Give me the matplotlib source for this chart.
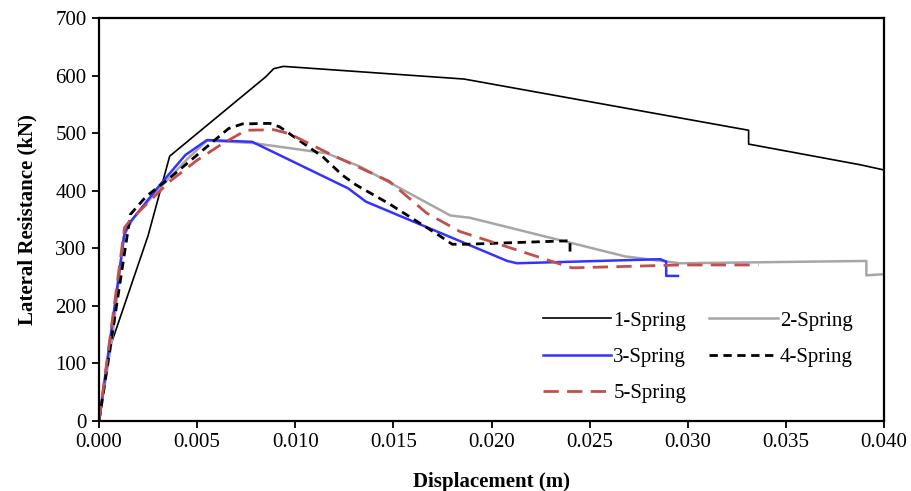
import matplotlib
matplotlib.use("Agg")
import matplotlib.pyplot as plt

plt.rcParams['font.family'] = ['Liberation Serif', 'DejaVu Serif']

# displacement (m) / lateral resistance (kN)
s1_x = [0, 0.0006, 0.0025, 0.0036, 0.0085, 0.0089, 0.0094, 0.0186, 0.0331, 0.0331, 0.0388, 0.0400]
s1_y = [0, 132, 322, 460, 598, 612, 616, 594, 505, 481, 445, 436]

s2_x = [0, 0.0007, 0.00125, 0.0017, 0.0031, 0.0045, 0.0055, 0.0078, 0.0116, 0.0133, 0.0179, 0.0189,
        0.0268, 0.0296, 0.0391, 0.0391, 0.0400]
s2_y = [0, 150, 320, 350, 405, 455, 487, 483, 465, 442, 357, 353, 286, 274, 278, 253, 255]

s3_x = [0, 0.0013, 0.0016, 0.0031, 0.0044, 0.0055, 0.0078, 0.0127, 0.0136, 0.0208, 0.0213,
        0.0286, 0.0289, 0.0289, 0.0295]
s3_y = [0, 326, 346, 410, 462, 488, 485, 404, 381, 278, 274, 281, 277, 252, 252]

s4_x = [0, 0.0016, 0.0024, 0.0036, 0.0051, 0.0066, 0.0073, 0.0087, 0.0092, 0.0114, 0.0124, 0.0131,
        0.0148, 0.0173, 0.0180, 0.0187, 0.0239, 0.0240, 0.0240]
s4_y = [0, 359, 390, 422, 465, 508, 516, 517, 511, 459, 427, 410, 377, 323, 307, 307, 313, 314, 288]

s5_x = [0, 0.0013, 0.0016, 0.0036, 0.0050, 0.0063, 0.0075, 0.0089, 0.0097, 0.0117, 0.0148, 0.0167,
        0.0184, 0.0231, 0.0241, 0.0296, 0.0336]
s5_y = [0, 336, 349, 416, 453, 482, 505, 506, 499, 465, 416, 361, 329, 277, 266, 271, 271]

labels = ['1-Spring', '2-Spring', '3-Spring', '4-Spring', '5-Spring']

fig = plt.figure(figsize=(9.11, 4.91), dpi=100)
ax = fig.add_axes([0.1087, 0.1426, 0.8617, 0.8207])

h1, = ax.plot(s1_x, s1_y, color='black', lw=1.2, label=labels[0])
h2, = ax.plot(s2_x, s2_y, color='#A6A6A6', lw=1.8, label=labels[1])
h3, = ax.plot(s3_x, s3_y, color='#3333FF', lw=1.8, label=labels[2])
h4, = ax.plot(s4_x, s4_y, color='black', lw=2.0, ls=(0, (3.0, 2.0)), label=labels[3])
h5, = ax.plot(s5_x, s5_y, color='#C0504D', lw=2.0, ls=(0, (5.5, 3.0)), label=labels[4])

ax.set_xlim(0, 0.040)
ax.set_ylim(0, 700)
ax.set_xticks([i * 0.005 for i in range(9)])
ax.set_xticklabels(['%.3f' % (i * 0.005) for i in range(9)])
ax.set_yticks(range(0, 701, 100))
ax.tick_params(labelsize=15, length=5, width=1.3, direction='out', pad=4)
for sp in ax.spines.values():
    sp.set_linewidth(1.6)

ax.set_xlabel('Displacement (m)', fontsize=15, fontweight='bold', labelpad=14)
ax.set_ylabel('Lateral Resistance (kN)', fontsize=15, fontweight='bold', labelpad=13)

# two columns, filled row-wise like the original
ax.legend([h1, h3, h5, h2, h4], [labels[0], labels[2], labels[4], labels[1], labels[3]],
          ncol=2, frameon=False, fontsize=15, loc='upper left',
          bbox_to_anchor=(0.565, 0.273), borderaxespad=0, borderpad=0,
          handlelength=3.3, handletextpad=0.1, columnspacing=1.1, labelspacing=0.8)

fig.savefig('out.png', dpi=100)
